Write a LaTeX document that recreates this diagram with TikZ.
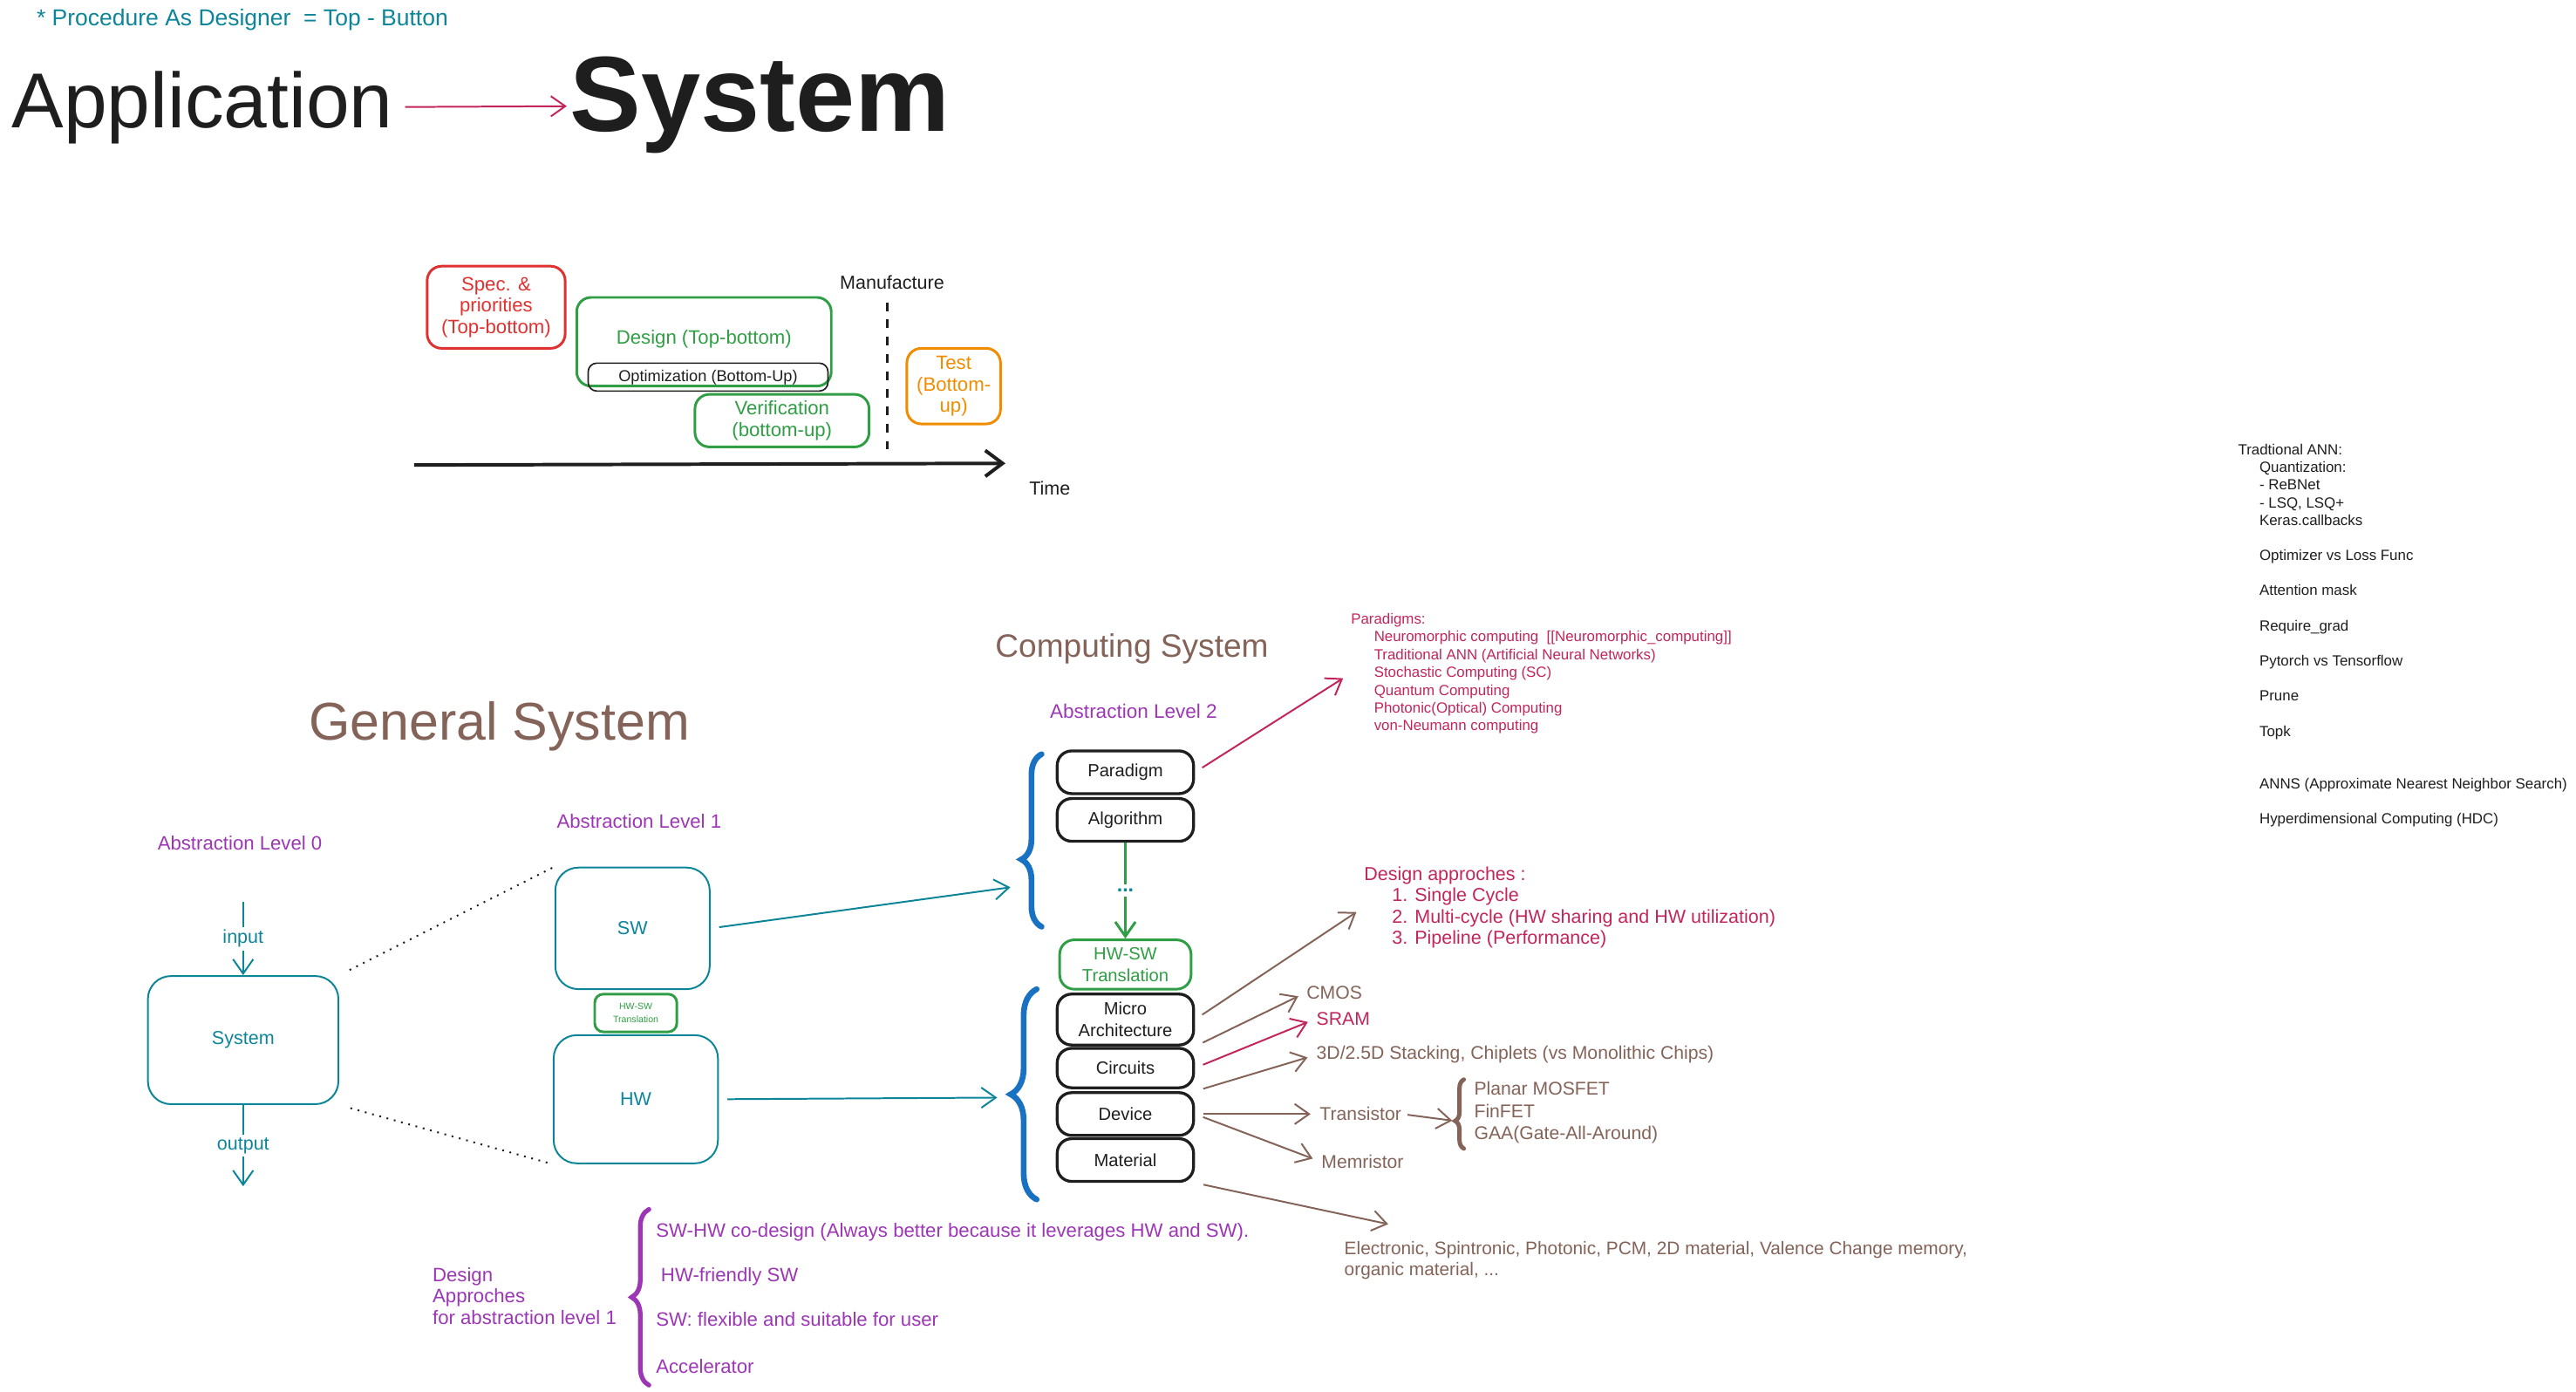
\documentclass[tikz,border=0pt]{standalone}
\usepackage{fontspec}
\setmainfont{Liberation Sans}
\usetikzlibrary{arrows.meta,decorations.pathreplacing}

\definecolor{ink}{HTML}{1E1E1E}
\definecolor{tealc}{HTML}{0C8599}
\definecolor{crim}{HTML}{C2255C}
\definecolor{purp}{HTML}{9C36B5}
\definecolor{brwn}{HTML}{846358}
\definecolor{grn}{HTML}{2F9E44}
\definecolor{redc}{HTML}{E03131}
\definecolor{orng}{HTML}{F08C00}
\definecolor{blu}{HTML}{1971C2}

\newcommand{\fsz}[2]{\fontsize{#1}{#2}\selectfont}

\tikzset{
    lbl/.style={inner sep=0pt, align=left},
    box/.style={draw, rounded corners=5pt, align=center, inner sep=0pt},
    tlbox/.style={box, line width=0.9pt, font=\fsz{6.7}{7.4}},
    stackbox/.style={box, ink, line width=1pt, minimum width=1.66cm, minimum height=0.52cm, font=\fsz{6.1}{7.6}},
    tealbox/.style={box, tealc, line width=0.6pt, rounded corners=8pt, font=\fsz{6.5}{8}},
    arr/.style={-{Straight Barb[length=5pt,width=7pt]}, line width=0.6pt},
    gap/.style={shorten >=3pt},
    brc/.style={decorate, line width=2pt, line cap=round},
}

\begin{document}
\begin{tikzpicture}[x=0.02cm, y=-0.02cm]
    \useasboundingbox (0,0) rectangle (1568,847);

    \node[lbl, tealc, anchor=west, font=\fsz{8}{10}] (proc) at (22,12) {* Procedure As Designer\ \ = Top - Button};
    \node[lbl, ink, anchor=base west, inner sep=1pt, font=\fsz{27}{30}] (app) at (5,78) {Application};
    \node[lbl, ink, anchor=base west, inner sep=1pt, font=\fsz{37}{40}\bfseries] (sys) at (345,80) {System};
    \draw[arr, crim, shorten <=3pt] (app) -- (sys);

    \node[tlbox, redc, minimum width=1.68cm, minimum height=1cm] (spec) at (302,187) {Spec. \&\\priorities\\(Top-bottom)};
    \node[tlbox, grn, minimum width=3.1cm, minimum height=1.08cm] (design) at (428.5,208) {\raisebox{3pt}{Design (Top-bottom)}};
    \node[box, ink, line width=0.5pt, rounded corners=3pt, minimum width=2.92cm, minimum height=0.34cm, font=\fsz{5.5}{6}] (optim) at (431,229.5) {Optimization (Bottom-Up)};
    \node[tlbox, grn, minimum width=2.12cm, minimum height=0.64cm] (verif) at (476,256) {Verification\\(bottom-up)};
    \node[tlbox, orng, minimum width=1.14cm, minimum height=0.92cm] (test) at (580.5,235) {Test\\(Bottom-\\up)};
    \node[lbl, ink, font=\fsz{6.5}{8}] (manuf) at (543,172) {Manufacture};
    \coordinate (m0) at (540,184);
    \coordinate (m1) at (540,275);
    \draw[ink, dashed, line width=0.8pt] (m0) -- (m1);
    \coordinate (t0) at (252,283);
    \coordinate (t1) at (612,282);
    \draw[ink, line width=1.2pt, -{Straight Barb[length=6pt,width=9pt]}] (t0) -- (t1);
    \node[lbl, ink, font=\fsz{6.5}{8}] (time) at (639,297) {Time};

    \node[lbl, ink, anchor=north west, font=\fsz{5.1}{6.09}] (notes) at (1362,270) {Tradtional ANN:\\
        \hspace*{7.4pt}Quantization:\\
        \hspace*{7.4pt}- ReBNet\\
        \hspace*{7.4pt}- LSQ, LSQ+\\
        \hspace*{7.4pt}Keras.callbacks\\[6.09pt]
        \hspace*{7.4pt}Optimizer vs Loss Func\\[6.09pt]
        \hspace*{7.4pt}Attention mask\\[6.09pt]
        \hspace*{7.4pt}Require\_grad\\[6.09pt]
        \hspace*{7.4pt}Pytorch vs Tensorflow\\[6.09pt]
        \hspace*{7.4pt}Prune\\[6.09pt]
        \hspace*{7.4pt}Topk\\[12.18pt]
        \hspace*{7.4pt}ANNS (Approximate Nearest Neighbor Search)\\[6.09pt]
        \hspace*{7.4pt}Hyperdimensional Computing (HDC)};

    \node[lbl, brwn, font=\fsz{11.2}{13}] (comptitle) at (689,395) {Computing System};
    \node[lbl, brwn, font=\fsz{18.4}{20}] (gentitle) at (304,442) {General System};
    \node[lbl, purp, font=\fsz{6.8}{8}] (lvl2) at (690,433) {Abstraction Level 2};
    \node[lbl, purp, font=\fsz{6.7}{8}] (lvl1) at (389,500) {Abstraction Level 1};
    \node[lbl, purp, font=\fsz{6.7}{8}] (lvl0) at (146,513) {Abstraction Level 0};

    \node[lbl, crim, anchor=north west, font=\fsz{5.1}{6.15}] (pardlist) at (822,373) {Paradigms:\\
        \hspace*{8pt}Neuromorphic computing\ \ [[Neuromorphic\_computing]]\\
        \hspace*{8pt}Traditional ANN (Artificial Neural Networks)\\
        \hspace*{8pt}Stochastic Computing (SC)\\
        \hspace*{8pt}Quantum Computing\\
        \hspace*{8pt}Photonic(Optical) Computing\\
        \hspace*{8pt}von-Neumann computing};

    \node[stackbox] (paradigm) at (685,470) {Paradigm};
    \node[stackbox] (algorithm) at (685,499) {Algorithm};
    \node[box, grn, line width=0.9pt, minimum width=1.6cm, minimum height=0.6cm, font=\fsz{6.1}{7.6}] (hwsw) at (685,587) {HW-SW\\Translation};
    \node[stackbox, minimum height=0.62cm] (micro) at (685,620.5) {Micro\\Architecture};
    \node[stackbox, minimum height=0.48cm] (circuits) at (685,650) {Circuits};
    \node[stackbox] (device) at (685,678) {Device};
    \node[stackbox] (material) at (685,706) {Material};
    \draw[arr, grn, line width=0.9pt] (algorithm) -- node[fill=white, text=tealc, inner sep=1.5pt, font=\fsz{7}{8}\bfseries] (dots) {...} (hwsw);

    \draw[brc, blu, decoration={brace, amplitude=7pt, aspect=0.39}] (634,564) -- (634,459);
    \draw[brc, blu, decoration={brace, amplitude=9pt}] (631,730) -- (631,602);

    \node[tealbox, minimum width=2.32cm, minimum height=1.56cm] (sysbox) at (148,633) {System};
    \node[tealbox, minimum width=1.88cm, minimum height=1.48cm] (swbox) at (385,565) {SW};
    \node[box, grn, line width=0.9pt, rounded corners=3pt, minimum width=1cm, minimum height=0.46cm, font=\fsz{3.2}{4.4}] (hwswsmall) at (387,616.5) {HW-SW\\Translation};
    \node[tealbox, minimum width=2cm, minimum height=1.56cm] (hwbox) at (387,669) {HW};
    \coordinate (inp) at (148,549);
    \coordinate (outp) at (148,722);
    \draw[arr, tealc] (inp) -- node[fill=white, inner sep=1pt, font=\fsz{6.5}{8}] (inlbl) {input} (sysbox);
    \draw[arr, tealc] (sysbox) -- node[fill=white, inner sep=1pt, font=\fsz{6.5}{8}] (outlbl) {output} (outp);
    \draw[ink, dotted, line width=0.6pt, shorten <=4pt] (sysbox.north east) -- (swbox.north west);
    \draw[ink, dotted, line width=0.6pt, shorten <=4pt] (sysbox.south east) -- (hwbox.south west);
    \coordinate (lv2in) at (615,540);
    \coordinate (lv1in) at (607,668);
    \draw[arr, tealc, shorten <=3pt] (swbox.east) -- (lv2in);
    \draw[arr, tealc, shorten <=3pt] (hwbox.east) -- (lv1in);

    \node[lbl, crim, anchor=north west, font=\fsz{6.5}{7.4}] (designlist) at (830,527) {Design approches :\\
        \hspace*{9.7pt}1. Single Cycle\\
        \hspace*{9.7pt}2. Multi-cycle (HW sharing and HW utilization)\\
        \hspace*{9.7pt}3. Pipeline (Performance)};
    \node[lbl, brwn, anchor=west, font=\fsz{6.4}{8}] (cmos) at (795,604) {CMOS};
    \node[lbl, crim, anchor=west, font=\fsz{6.4}{8}] (sram) at (801,620) {SRAM};
    \node[lbl, brwn, anchor=west, font=\fsz{6.4}{8}] (stack3d) at (801,642) {3D/2.5D Stacking, Chiplets (vs Monolithic Chips)};
    \node[lbl, brwn, anchor=west, font=\fsz{6.4}{8}] (transistor) at (803,678) {Transistor};
    \node[lbl, brwn, anchor=north west, font=\fsz{6.4}{7.7}] (fets) at (897,658) {Planar MOSFET\\FinFET\\GAA(Gate-All-Around)};
    \node[lbl, brwn, anchor=west, font=\fsz{6.4}{8}] (memristor) at (804,707) {Memristor};
    \node[lbl, brwn, anchor=north west, font=\fsz{6.3}{7.4}] (materials) at (818,755) {Electronic, Spintronic, Photonic, PCM, 2D material, Valence Change memory,\\organic material, ...};

    \draw[arr, crim, gap, shorten <=3pt] (paradigm.east) -- (pardlist.west);
    \draw[arr, brwn, gap, shorten <=3pt] (micro.east) -- (designlist.west);
    \draw[arr, brwn, gap, shorten <=3pt] (micro.south east) -- (cmos.west);
    \draw[arr, crim, gap, shorten <=3pt] (circuits.east) -- (sram.west);
    \draw[arr, brwn, gap, shorten <=3pt] (device.north east) -- (stack3d.west);
    \draw[arr, brwn, gap, shorten <=3pt] (device.east) -- (transistor.west);
    \draw[arr, brwn, gap, shorten <=3pt] (device.east) -- (memristor.west);
    \coordinate (matin) at (845,745);
    \draw[arr, brwn, shorten <=3pt] (material.south east) -- (matin);
    \draw[brc, brwn, line width=1.5pt, decoration={brace, amplitude=3pt, aspect=0.4}] (891,699) -- (891,657);
    \coordinate (fettip) at (884,682);
    \draw[arr, brwn, shorten <=2pt] (transistor.east) -- (fettip);

    \node[lbl, purp, anchor=north west, font=\fsz{6.7}{7.4}] (dalabel) at (263,771) {Design\\Approches\\for abstraction level 1};
    \draw[brc, purp, line width=1.6pt, decoration={brace, amplitude=6pt}] (395,843) -- (395,736);
    \node[lbl, purp, anchor=north west, font=\fsz{6.7}{7.6}] (dalist) at (399,744) {SW-HW co-design (Always better because it leverages HW and SW).\\[7.8pt]
        \hspace*{1.7pt}HW-friendly SW\\[7.8pt]
        SW: flexible and suitable for user\\[8.9pt]
        Accelerator};

\end{tikzpicture}
\end{document}
